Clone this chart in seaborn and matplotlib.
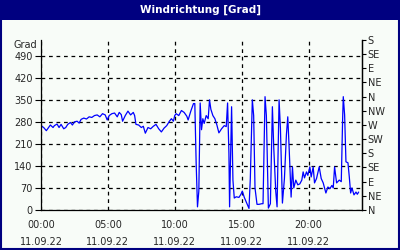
import matplotlib
matplotlib.use("Agg")
import matplotlib.pyplot as plt
from matplotlib.patches import Rectangle
from matplotlib.ticker import MultipleLocator
import seaborn as sns
import pandas as pd

# data (hours since 00:00, direction in degrees)
hours = [0.0, 0.2, 0.4, 0.5, 0.7, 0.9, 1.0, 1.2, 1.35, 1.5, 1.7, 1.85, 2.0, 2.2, 2.35, 2.5,
         2.7, 2.85, 3.0, 3.2, 3.4, 3.6, 3.8, 4.0, 4.2, 4.4, 4.6, 4.8, 4.95, 5.1, 5.3, 5.5,
         5.7, 5.85, 6.0, 6.1, 6.3, 6.5, 6.7, 6.9, 7.0, 7.1, 7.3, 7.5, 7.65, 7.8, 8.0, 8.2,
         8.4, 8.6, 8.8, 9.0, 9.2, 9.4, 9.6, 9.75, 9.9, 10.0, 10.1, 10.3, 10.5, 10.7, 10.9,
         11.0, 11.2, 11.4, 11.5, 11.6, 11.7, 11.8, 11.9, 12.0, 12.1, 12.2, 12.35, 12.5,
         12.6, 12.7, 12.85, 13.0, 13.15, 13.3, 13.5, 13.7, 13.85, 13.95, 14.05, 14.1, 14.25,
         14.35, 14.45, 14.6, 14.8, 14.95, 15.05, 15.2, 15.4, 15.55, 15.65, 15.8, 15.9, 16.0,
         16.15, 16.3, 16.5, 16.6, 16.75, 16.85, 17.0, 17.15, 17.3, 17.4, 17.55, 17.65, 17.8,
         17.9, 18.05, 18.2, 18.35, 18.45, 18.55, 18.7, 18.8, 18.9, 19.05, 19.2, 19.35, 19.5,
         19.6, 19.7, 19.85, 19.95, 20.1, 20.2, 20.35, 20.45, 20.6, 20.8, 20.95, 21.1, 21.3,
         21.45, 21.6, 21.75, 21.85, 21.95, 22.1, 22.3, 22.45, 22.55, 22.6, 22.7, 22.8, 22.95,
         23.05, 23.15, 23.25, 23.4, 23.55, 23.65, 23.75]
degrees = [268, 262, 252, 258, 270, 262, 268, 273, 262, 272, 258, 262, 272, 278, 270, 280,
           282, 276, 288, 292, 289, 296, 294, 300, 302, 296, 306, 302, 286, 300, 306, 308,
           296, 310, 303, 282, 300, 314, 302, 310, 300, 272, 270, 262, 266, 244, 262, 258,
           266, 272, 258, 248, 260, 268, 282, 290, 282, 300, 306, 300, 316, 310, 298,
           286, 314, 338, 338, 150, 10, 60, 340, 255, 290, 275, 300, 290,
           350, 320, 300, 290, 270, 245, 258, 268, 265, 340, 180, 10, 328,
           95, 38, 42, 40, 50, 60, 40, 20, 5, 100, 350, 300, 70,
           18, 18, 20, 20, 360, 300, 6, 20, 328, 200, 60, 10, 350,
           260, 22, 100, 240, 296, 200, 41, 137, 70, 95, 80, 83, 95,
           121, 102, 121, 110, 137, 105, 137, 86, 100, 137, 100, 86, 54,
           73, 68, 78, 70, 137, 86, 95, 90, 286, 360, 302, 153, 150,
           105, 54, 70, 48, 57, 50, 57]

left_ticks = [0, 70, 140, 210, 280, 350, 420, 490]
right_ticks = [0, 45, 90, 135, 180, 225, 270, 315, 360, 405, 450, 495, 540]
right_labels = ["N", "NE", "E", "SE", "S", "SW", "W", "NW", "N", "NE", "E", "SE", "S"]
x_ticks = [0, 5, 10, 15, 20]
x_labels = ["00:00\n11.09.22", "05:00\n11.09.22", "10:00\n11.09.22",
            "15:00\n11.09.22", "20:00\n11.09.22"]
title = "Windrichtung [Grad]"

sns.set_style("white")
plt.rcParams["font.family"] = ["DejaVu Sans"]

bg = "#F8FCF8"
navy = "#000080"

fig = plt.figure(figsize=(4, 2.5), dpi=100, facecolor=bg)
ax = fig.add_axes([41 / 400, 1 - 210 / 250, 321 / 400, 170 / 250])
ax.set_facecolor(bg)

df = pd.DataFrame({"h": hours, "deg": degrees})
sns.lineplot(data=df, x="h", y="deg", ax=ax, color="#0000FF", linewidth=0.9,
             estimator=None, sort=False)

ax.set_xlim(0, 24)
ax.set_ylim(0, 540)
ax.set_xlabel("")
ax.set_ylabel("")
ax.set_xticks(x_ticks)
ax.set_xticklabels(x_labels, fontsize=7, linespacing=1.9)
ax.xaxis.set_minor_locator(MultipleLocator(1))
ax.set_yticks(left_ticks)
ax.set_yticklabels([str(v) for v in left_ticks], fontsize=7)
ax.tick_params(axis="both", which="major", direction="out", length=4, width=0.8,
               color="black", pad=2)
ax.tick_params(axis="x", which="minor", direction="out", length=3, width=0.8,
               color="black")
ax.tick_params(axis="x", which="major", pad=3)

ax.grid(True, which="major", axis="both", color="black", linestyle=(0, (3, 3)),
        linewidth=0.9)
for s in ["left", "bottom", "right"]:
    ax.spines[s].set_visible(True)
    ax.spines[s].set_color("black")
    ax.spines[s].set_linewidth(0.9)
ax.spines["top"].set_visible(False)

ax2 = ax.twinx()
ax2.set_ylim(0, 540)
ax2.set_yticks(right_ticks)
ax2.set_yticklabels(right_labels, fontsize=7)
ax2.tick_params(axis="y", direction="out", length=3, width=0.8, color="black", pad=1)
for s in ["left", "bottom", "top"]:
    ax2.spines[s].set_visible(False)
ax2.spines["right"].set_color("black")
ax2.spines["right"].set_linewidth(0.9)

ax.text(-0.012, 1 - 5 / 170, "Grad", transform=ax.transAxes, ha="right", va="center",
        fontsize=7)

# title bar and border
fig.patches.append(Rectangle((0, 1 - 20 / 250), 1, 20 / 250, transform=fig.transFigure,
                             facecolor=navy, edgecolor="none", zorder=0))
fig.patches.append(Rectangle((0.002, 0.003), 0.996, 0.994, transform=fig.transFigure,
                             facecolor="none", edgecolor=navy, linewidth=1.5, zorder=5))
fig.text(0.5, 1 - 10 / 250, title, ha="center", va="center", color="white",
         fontsize=7.5, fontweight="bold")

fig.savefig("out.png", dpi=100, facecolor=bg)
